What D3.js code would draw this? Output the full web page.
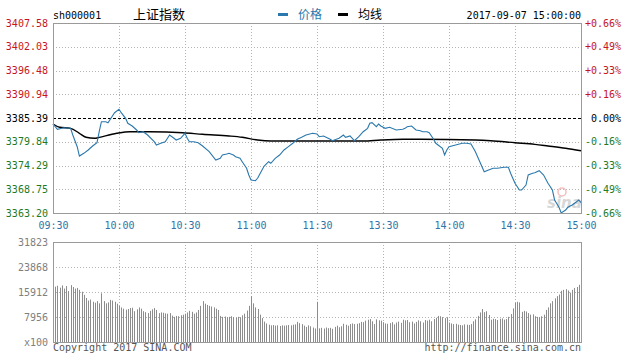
<!DOCTYPE html>
<html><head><meta charset="utf-8">
<script src="https://cdn.jsdelivr.net/npm/d3@7/dist/d3.min.js"></script>
<style>
body{margin:0;background:#fff;}
svg{display:block;}
text{font-family:"DejaVu Sans Mono","Liberation Mono",monospace;font-size:10px;}
</style>
</head><body>
<svg id="c" width="635" height="360"></svg>
<script>
const symbol = "sh000001";
const title = "上证指数";
const stamp = "2017-09-07 15:00:00";
const legendNames = ["价格", "均线"];
const prevClose = 3385.39;
const priceTicks = [3363.20, 3368.75, 3374.29, 3379.84, 3385.39, 3390.94, 3396.48, 3402.03, 3407.58];
const pctTicks = ["-0.66%", "-0.49%", "-0.33%", "-0.16%", "0.00%", "+0.16%", "+0.33%", "+0.49%", "+0.66%"];
const timeTicks = ["09:30", "10:00", "10:30", "11:00", "11:30", "13:30", "14:00", "14:30", "15:00"];
const volTicks = [0, 7956, 15912, 23868, 31823];
const volTickLabels = ["x100", "7956", "15912", "23868", "31823"];

const priceTimes = ["09:30","09:32","09:34","09:35","09:38","09:39","09:41","09:42","09:44","09:46","09:48","09:50","09:51","09:52","09:54","09:55","09:57","09:58","10:00","10:01","10:03","10:04","10:06","10:08","10:09","10:11","10:13","10:16","10:17","10:19","10:21","10:23","10:25","10:26","10:28","10:30","10:31","10:32","10:34","10:36","10:38","10:41","10:44","10:46","10:47","10:49","10:50","10:52","10:53","10:55","10:56","10:58","10:59","11:00","11:02","11:03","11:05","11:06","11:08","11:09","11:11","11:13","11:15","11:17","11:19","11:21","11:23","11:25","11:28","11:30",
"13:01","13:03","13:06","13:07","13:10","13:12","13:13","13:15","13:17","13:19","13:21","13:23","13:24","13:25","13:27","13:28","13:29","13:31","13:33","13:36","13:39","13:40","13:41","13:43","13:45","13:47","13:48","13:50","13:51","13:53","13:54","13:57","13:58","13:59","14:00","14:03","14:06","14:08","14:10","14:12","14:14","14:16","14:18","14:20","14:22","14:25","14:27","14:28","14:30","14:32","14:33","14:35","14:36","14:38","14:39","14:41","14:43","14:45","14:47","14:48","14:50","14:51","14:53","14:54","14:56","14:58","14:59","15:00"];
const prices = [3383.99,3382.75,3382.98,3383.12,3382.98,3381.42,3378.69,3376.51,3377.14,3377.92,3378.85,3379.62,3382.19,3384.53,3384.53,3384.29,3385.86,3386.63,3387.42,3386.63,3385.32,3384.15,3383.52,3382.59,3381.96,3382.19,3381.42,3379.85,3379.08,3379.48,3379.85,3381.42,3380.65,3380.25,3380.65,3381.82,3380.65,3379.85,3379.85,3379.62,3378.85,3377.52,3375.58,3375.98,3376.75,3376.98,3377.14,3376.75,3376.35,3375.98,3375.18,3373.64,3372.08,3370.91,3370.74,3371.31,3373.24,3374.18,3375.18,3374.81,3375.98,3376.75,3377.92,3378.69,3379.48,3380.41,3380.88,3381.42,3381.82,3381.65,
3381.02,3381.19,3380.41,3380.09,3380.65,3381.42,3380.88,3381.19,3380.09,3381.02,3382.19,3382.98,3384.15,3384.29,3383.36,3383.99,3383.52,3382.98,3383.22,3382.59,3382.75,3382.98,3383.36,3383.52,3382.59,3382.42,3382.19,3382.19,3381.96,3380.41,3379.48,3378.31,3376.75,3377.92,3378.69,3379.08,3379.48,3379.48,3379.32,3377.52,3375.18,3372.85,3373.24,3373.64,3373.64,3373.87,3373.87,3372.47,3370.14,3368.57,3368.57,3369.74,3372.08,3372.47,3372.61,3373.08,3372.08,3370.14,3368.57,3366.24,3364.53,3363.20,3363.90,3364.53,3365.07,3365.84,3366.24,3365.61];

const avgTimes = ["09:30","09:33","09:38","09:42","09:45","09:49","09:51","09:59","10:05","10:14","10:29","10:38","10:50","10:56","11:03","11:09","11:21","13:21","13:29","13:39","13:47","14:12","14:19","14:30","14:39","14:45","14:53","15:00"];
const avgPrices = [3383.99,3383.22,3382.98,3381.82,3380.88,3380.65,3380.88,3381.82,3382.19,3382.19,3381.96,3381.58,3381.19,3380.88,3380.25,3380.02,3380.02,3380.02,3380.25,3380.41,3380.41,3380.25,3380.09,3379.62,3379.24,3378.85,3378.31,3377.74];

// one volume bar per minute (x100 shares), 09:30..11:30 then 13:01..15:00
const volumes = [31823,
17600,17900,17300,18000,17000,17800,16200,18100,17500,17000,17200,16600,16000,
15000,14000,13200,13500,12800,12500,13000,12300,15500,
13000,12300,12600,13400,13200,12800,12200,11500,
11000,10600,10300,10500,10800,10900,9800,10400,
11000,10600,9800,9500,9200,9900,10400,10800,10200,
9200,9400,9300,9100,9000,9200,
8400,8000,8300,8200,8500,8700,9000,
9400,9900,9600,9000,9400,10200,11500,13000,12200,
11800,11500,11300,11000,10600,10200,
8300,8000,8100,7900,8000,8200,7900,7800,8000,7900,8500,9000,10000,11500,
14600,12300,11000,10500,8700,7600,6500,5900,
5500,5300,5400,5200,5300,5100,5300,5200,5300,5400,5300,5500,5600,
6400,6000,5700,5200,4800,5300,5000,4600,4300,12800,
4350,4500,4300,4600,4400,4500,4200,4800,5200,4700,
5000,5800,5500,5200,5700,5900,5700,5800,6000,6400,
6300,6800,7100,7300,6600,5700,7200,6900,6800,6300,
5900,5800,6000,6300,5600,6200,6500,6100,7100,6900,
7000,6300,6500,5900,6400,6900,6600,6200,7000,6800,
7100,6600,7300,7700,8300,8200,7900,7600,7900,6200,
5900,5700,5800,5500,5400,5300,5600,5500,5400,5700,
6600,7200,8300,9400,10500,9500,9800,8600,7100,7400,
7300,7000,7400,7500,7100,7300,8000,8900,10700,12500,
12800,12600,9600,9900,9700,9200,8700,8800,8200,8000,
7900,8200,8700,10200,11000,12300,13000,13900,14600,15100,
16300,16600,16800,16400,15700,16600,17200,17500,18200,19400];

// ---- helpers
function minuteIndex(t){
  const [h,m] = t.split(":").map(Number);
  const mins = h*60+m;
  return mins <= 690 ? mins - 570 : 120 + (mins - 780);
}

const L = 53, R = 581, T = 23, B = 213, VT = 242, VB = 342;
const svg = d3.select("#c");
const x = d3.scaleLinear().domain([0,240]).range([L, R]);
const y = d3.scaleLinear().domain([priceTicks[0], priceTicks[priceTicks.length-1]]).range([B, T]);
const yv = d3.scaleLinear().domain([0, volTicks[volTicks.length-1]]).range([VB, VT]);
const crisp = v => Math.round(v) + 0.5;
const tickIdx = timeTicks.map((d,i)=>i*30);

const red = "#c8141e", green = "#1f7a1f", blue = "#2a78ad", gridC = "#b4b4b4", frameC = "#9a9a9a";

// ---- header
svg.append("text").attr("x", L).attr("y", 15).attr("dy","0.35em").attr("fill","#000").text(symbol);
svg.append("text").attr("x", 133).attr("y", 14.5).attr("dy","0.35em")
  .style("font-family","'Noto Sans CJK SC',sans-serif").style("font-size","13px").attr("fill","#000").text(title);
svg.append("rect").attr("x",278).attr("y",13).attr("width",10).attr("height",3).attr("fill",blue);
svg.append("text").attr("x",298).attr("y",14.5).attr("dy","0.35em")
  .style("font-family","'Noto Sans CJK SC',sans-serif").style("font-size","12px").attr("fill",blue).text(legendNames[0]);
svg.append("rect").attr("x",338).attr("y",13).attr("width",10).attr("height",3).attr("fill","#000");
svg.append("text").attr("x",358).attr("y",14.5).attr("dy","0.35em")
  .style("font-family","'Noto Sans CJK SC',sans-serif").style("font-size","12px").attr("fill","#000").text(legendNames[1]);
svg.append("text").attr("x", R).attr("y", 15).attr("dy","0.35em").attr("text-anchor","end").attr("fill","#000").text(stamp);

// ---- main grid
const g = svg.append("g");
g.selectAll("line.hg").data(priceTicks.slice(1,-1)).enter().append("line")
  .attr("x1", L).attr("x2", R).attr("y1", d=>crisp(y(d))).attr("y2", d=>crisp(y(d)))
  .attr("stroke", d=> d===prevClose ? "#000" : gridC)
  .attr("stroke-dasharray", d=> d===prevClose ? "3,2" : "1,2");
g.selectAll("line.vg").data(tickIdx.slice(1,-1)).enter().append("line")
  .attr("x1", d=>crisp(x(d))).attr("x2", d=>crisp(x(d))).attr("y1", T).attr("y2", B)
  .attr("stroke", gridC).attr("stroke-dasharray","1,2");

// watermark
const wm = svg.append("g").attr("opacity",0.55);
wm.append("circle").attr("cx",562).attr("cy",192).attr("r",4).attr("fill","none").attr("stroke","#e88").attr("stroke-width",1.5);
wm.append("text").attr("x",547).attr("y",208).style("font-family","'DejaVu Sans',sans-serif")
  .style("font-size","15px").style("font-style","italic").style("font-weight","bold").attr("fill","#b8b8b8").text("sina");

// ---- lines
const pts = priceTimes.map((t,i)=>({m:minuteIndex(t), v:prices[i]}));
const avgPts = avgTimes.map((t,i)=>({m:minuteIndex(t), v:avgPrices[i]}));
svg.append("path").datum(avgPts).attr("fill","none").attr("stroke","#000").attr("stroke-width",1.4)
  .attr("d", d3.line().x(d=>x(d.m)).y(d=>y(d.v)).curve(d3.curveMonotoneX));
svg.append("path").datum(pts).attr("fill","none").attr("stroke",blue).attr("stroke-width",1.1)
  .attr("d", d3.line().x(d=>x(d.m)).y(d=>y(d.v)));

// frame
svg.append("rect").attr("x", L+0.5).attr("y", T+0.5).attr("width", R-L).attr("height", B-T)
  .attr("fill","none").attr("stroke",frameC);

// ---- left price axis
const colorFor = v => v > prevClose ? red : (v < prevClose ? green : "#000");
const axL = svg.append("g").attr("transform",`translate(${L-5},0)`)
  .call(d3.axisLeft(y).tickValues(priceTicks).tickSize(0).tickPadding(0).tickFormat(d3.format(".2f")));
axL.select(".domain").remove();
axL.selectAll("text").style("font-family","'DejaVu Sans Mono',monospace").style("font-size","10px")
  .attr("fill", d=>colorFor(d));

// ---- right percent axis
const axR = svg.append("g").attr("transform",`translate(${R+40},0)`)
  .call(d3.axisLeft(y).tickValues(priceTicks).tickSize(0).tickPadding(0).tickFormat((d,i)=>pctTicks[i]));
axR.select(".domain").remove();
axR.selectAll("text").style("font-family","'DejaVu Sans Mono',monospace").style("font-size","10px")
  .attr("fill", d=>colorFor(d));

// ---- time axis
const axB = svg.append("g").attr("transform",`translate(0,${B})`)
  .call(d3.axisBottom(x).tickValues(tickIdx).tickSize(0).tickPadding(9).tickFormat((d,i)=>timeTicks[i]));
axB.select(".domain").remove();
axB.selectAll("text").style("font-family","'DejaVu Sans Mono',monospace").style("font-size","10px").attr("fill","#2f74a8");

// ---- volume panel
const gv = svg.append("g");
gv.selectAll("line.hg").data(volTicks.slice(1,-1)).enter().append("line")
  .attr("x1", L).attr("x2", R).attr("y1", d=>crisp(yv(d))).attr("y2", d=>crisp(yv(d)))
  .attr("stroke", gridC).attr("stroke-dasharray","1,2");
gv.selectAll("line.vg").data(tickIdx.slice(1,-1)).enter().append("line")
  .attr("x1", d=>crisp(x(d))).attr("x2", d=>crisp(x(d))).attr("y1", VT).attr("y2", VB)
  .attr("stroke", gridC).attr("stroke-dasharray","1,2");
gv.selectAll("line.bar").data(volumes).enter().append("line")
  .attr("x1",(d,i)=>crisp(x(i))).attr("x2",(d,i)=>crisp(x(i)))
  .attr("y1", yv(0)).attr("y2", d=>yv(d)).attr("stroke","#8c8c8c").attr("stroke-width",1);
svg.append("rect").attr("x", L+0.5).attr("y", VT+0.5).attr("width", R-L).attr("height", VB-VT)
  .attr("fill","none").attr("stroke",frameC);
const axV = svg.append("g").attr("transform",`translate(${L-5},0)`)
  .call(d3.axisLeft(yv).tickValues(volTicks).tickSize(0).tickPadding(0).tickFormat((d,i)=>volTickLabels[i]));
axV.select(".domain").remove();
axV.selectAll("text").style("font-family","'DejaVu Sans Mono',monospace").style("font-size","10px").attr("fill","#808080");

// ---- footer
svg.append("text").attr("x", L).attr("y", 347.5).attr("dy","0.35em").attr("fill","#555").text("Copyright 2017 SINA.COM");
svg.append("text").attr("x", R).attr("y", 347.5).attr("dy","0.35em").attr("text-anchor","end").attr("fill","#555").text("http://finance.sina.com.cn");
</script>
</body></html>
